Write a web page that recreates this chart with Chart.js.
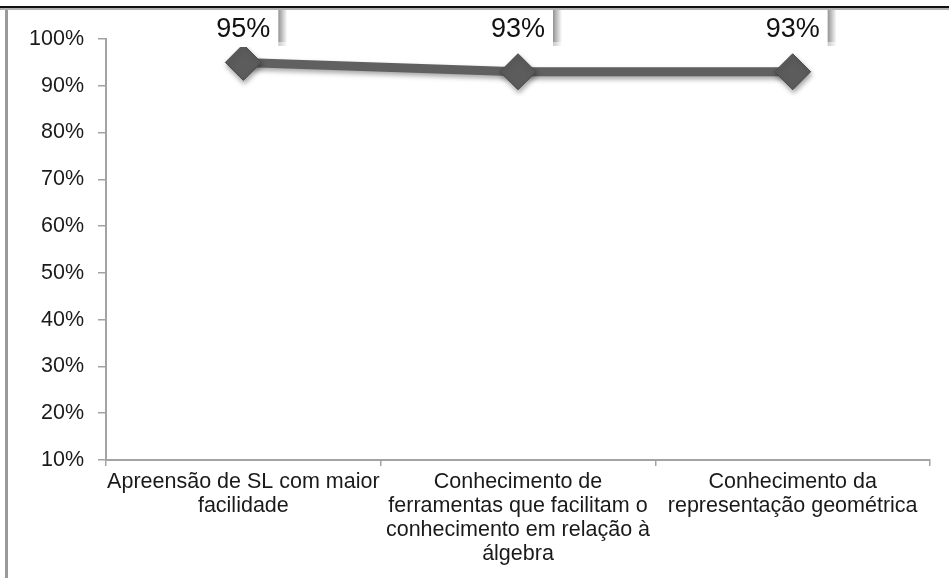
<!DOCTYPE html>
<html>
<head>
<meta charset="utf-8">
<script src="https://cdn.jsdelivr.net/npm/chart.js@4"></script>
<style>
  html, body { margin: 0; padding: 0; background: #fff; }
  #wrap { width: 949px; height: 578px; position: relative; }
</style>
</head>
<body>
<div id="wrap"><canvas id="c" width="949" height="578"></canvas></div>
<script>
// Categories (multi-line labels) and percentages
const categories = [
  ["Apreensão de SL com maior", "facilidade"],
  ["Conhecimento de", "ferramentas que facilitam o", "conhecimento em relação à", "álgebra"],
  ["Conhecimento da", "representação geométrica"]
];
const values = [95, 93, 93];
const yTicks = [10, 20, 30, 40, 50, 60, 70, 80, 90, 100];

const FONT = "'Liberation Sans', Arial, sans-serif";
const AXIS = '#a3a3a3';

// Outer frame: black rule across the top, grey rule down the left
const framePlugin = {
  id: 'frame',
  beforeDraw(chart) {
    const ctx = chart.ctx;
    ctx.save();
    ctx.fillStyle = '#fff';
    ctx.fillRect(0, 0, chart.width, chart.height);
    ctx.fillStyle = '#111';
    ctx.fillRect(0, 6, chart.width, 2);
    ctx.fillStyle = '#b0b0b0';
    ctx.fillRect(0, 8, chart.width, 2);
    ctx.fillStyle = '#9a9a9a';
    ctx.fillRect(5, 10, 3, chart.height - 10);
    ctx.restore();
  }
};

// Soft drop shadow under the line and markers
const shadowPlugin = {
  id: 'lineShadow',
  beforeDatasetsDraw(chart) {
    const ctx = chart.ctx;
    ctx.save();
    ctx.shadowColor = 'rgba(0,0,0,0.35)';
    ctx.shadowBlur = 5;
    ctx.shadowOffsetX = 1;
    ctx.shadowOffsetY = 3;
  },
  afterDatasetsDraw(chart) {
    chart.ctx.restore();
  }
};

// Value labels in white boxes with a shadow on the right edge
const labelPlugin = {
  id: 'valueLabels',
  afterDatasetsDraw(chart) {
    const ctx = chart.ctx;
    const meta = chart.getDatasetMeta(0);
    const area = chart.chartArea;
    ctx.save();
    meta.data.forEach((pt, i) => {
      const v = chart.data.datasets[0].data[i];
      const cx = pt.x;
      const cy = Math.min(pt.y - 33, area.top - 10);
      const top = 10, bottom = cy + 18;
      // box
      ctx.fillStyle = '#fff';
      ctx.fillRect(cx - 36, top, 72, bottom - top);
      // right-edge shadow
      const g = ctx.createLinearGradient(cx + 35, 0, cx + 44, 0);
      g.addColorStop(0, 'rgba(120,120,120,0.8)');
      g.addColorStop(1, 'rgba(120,120,120,0)');
      ctx.fillStyle = g;
      ctx.fillRect(cx + 35, top, 9, bottom - top - 5);
      ctx.globalAlpha = 0.5;
      ctx.fillRect(cx + 35, bottom - 5, 9, 4);
      ctx.globalAlpha = 1;
      // text
      ctx.fillStyle = '#111';
      ctx.font = '27px ' + FONT;
      ctx.textAlign = 'center';
      ctx.textBaseline = 'middle';
      ctx.fillText(v + '%', cx, cy + 1);
    });
    ctx.restore();
  }
};

new Chart(document.getElementById('c'), {
  type: 'line',
  data: {
    labels: categories,
    datasets: [{
      data: values,
      borderColor: '#606060',
      borderWidth: 9,
      pointStyle: 'rectRot',
      pointRadius: 18,
      pointHoverRadius: 18,
      pointBackgroundColor: '#5c5c5c',
      pointBorderColor: '#4a4a4a',
      pointBorderWidth: 1,
      tension: 0,
      clip: false
    }]
  },
  options: {
    responsive: false,
    animation: false,
    events: [],
    layout: { padding: { top: 39, right: 11, left: 0, bottom: 0 } },
    plugins: {
      legend: { display: false },
      tooltip: { enabled: false }
    },
    scales: {
      x: {
        offset: true,
        grid: {
          offset: true,
          drawOnChartArea: false,
          color: AXIS,
          tickLength: 6,
          lineWidth: 1.5
        },
        border: { color: AXIS, width: 2 },
        ticks: {
          color: '#1a1a1a',
          font: { family: FONT, size: 21.5, lineHeight: 1.12 },
          maxRotation: 0,
          autoSkip: false,
          padding: 4
        },
        afterFit(s) {
          s.height = 118;
          s.paddingLeft = 0;
          s.paddingRight = 0;
        }
      },
      y: {
        min: 10,
        max: 100,
        afterBuildTicks(s) { s.ticks = yTicks.map(v => ({ value: v })); },
        grid: {
          drawOnChartArea: false,
          color: AXIS,
          tickLength: 8,
          lineWidth: 1.5
        },
        border: { color: AXIS, width: 2 },
        ticks: {
          color: '#1a1a1a',
          font: { family: FONT, size: 21.5 },
          padding: 14,
          callback: v => v + '%'
        },
        afterFit(s) { s.width = 106; }
      }
    }
  },
  plugins: [framePlugin, shadowPlugin, labelPlugin]
});
</script>
</body>
</html>
